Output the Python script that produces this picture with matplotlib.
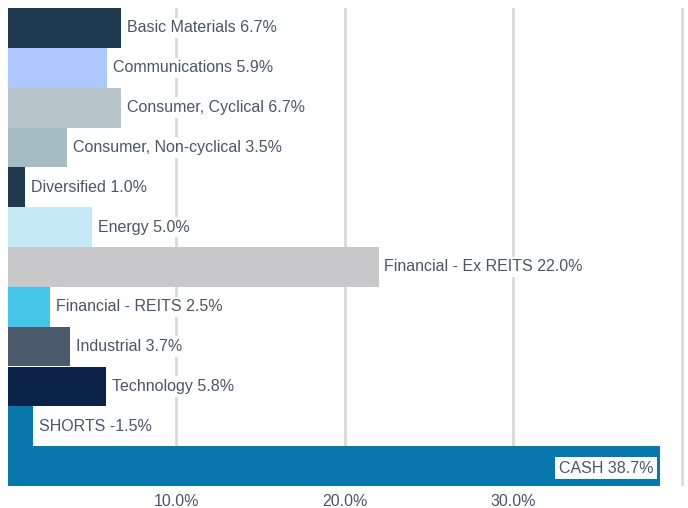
from matplotlib import pyplot as plt

plt.rcParams['font.family'] = ['Liberation Sans', 'DejaVu Sans']

# sector weights, top to bottom
sectors = ['Basic Materials', 'Communications', 'Consumer, Cyclical',
           'Consumer, Non-cyclical', 'Diversified', 'Energy',
           'Financial - Ex REITS', 'Financial - REITS', 'Industrial',
           'Technology', 'SHORTS', 'CASH']
weights = [6.7, 5.9, 6.7, 3.5, 1.0, 5.0, 22.0, 2.5, 3.7, 5.8, -1.5, 38.7]
colors = ['#1f3a4f', '#adc8ff', '#b8c4cc', '#a5bdc2', '#1f3a4f', '#c5e9f7',
          '#c8c8ca', '#45c5e8', '#4a5a6c', '#0b2249', '#0777ac', '#0777ac']
xticks = [10, 20, 30]
xticklabels = ['10.0%', '20.0%', '30.0%']

fig = plt.figure(figsize=(6.88, 5.08), dpi=100)
ax = fig.add_axes([8 / 688, 1 - 486 / 508, 678 / 688, 478 / 508])

ypos = list(range(len(sectors)))
widths = [abs(w) for w in weights]
ax.barh(ypos, widths, height=1.0, color=colors, zorder=2)

for x in xticks + [40]:
    ax.axvline(x, color='#d9d9d9', lw=2, zorder=1)

txt_color = '#4a5568'
for y, name, w, bw in zip(ypos, sectors, weights, widths):
    label = '{} {:.1f}%'.format(name, w)
    if name == 'CASH':
        ax.text(bw - 0.4, y + 0.05, label, ha='right', va='center',
                fontsize=11.5, color=txt_color, zorder=3,
                bbox=dict(facecolor='white', edgecolor='none', pad=2.5))
    else:
        ax.text(bw + 0.35, y, label, ha='left', va='center',
                fontsize=11.5, color=txt_color, zorder=3,
                bbox=dict(facecolor='white', edgecolor='none', pad=2))

ax.set_xlim(0, 40.25)
ax.set_ylim(len(sectors) - 0.5, -0.5)
ax.set_xticks(xticks)
ax.set_xticklabels(xticklabels, fontsize=11.5, color=txt_color)
ax.set_yticks([])
ax.tick_params(axis='x', length=0, pad=6)
for s in ax.spines.values():
    s.set_visible(False)

fig.savefig('out.png', dpi=100)
